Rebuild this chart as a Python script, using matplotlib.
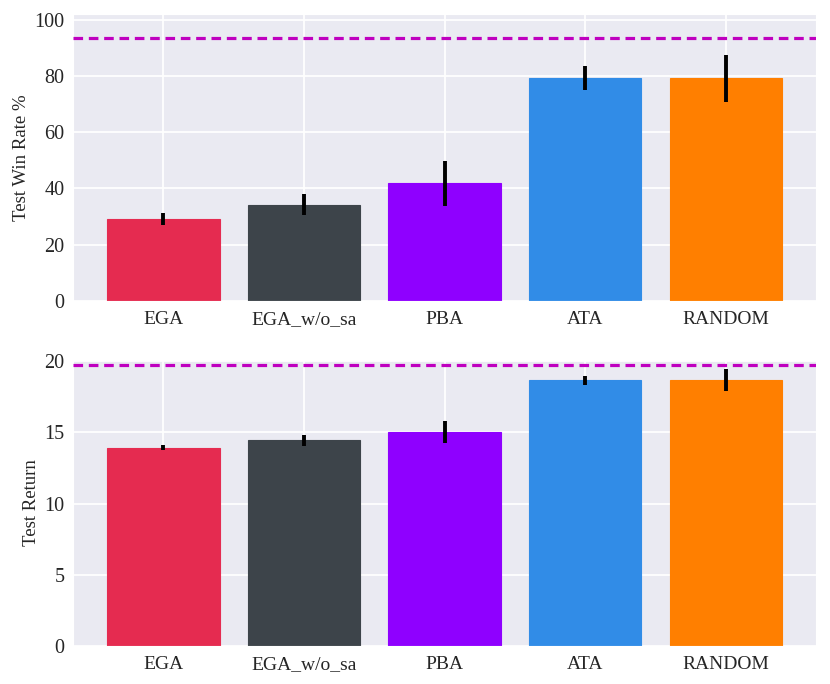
import numpy as np
import matplotlib.pyplot as plt
import seaborn as sns

sns.set_style('darkgrid')
plt.rcParams['font.family'] = ['Liberation Serif', 'DejaVu Serif']

methods = ['EGA', 'EGA_w/o_sa', 'PBA', 'ATA', 'RANDOM']
colors = ['#E52B50', '#3D444A', '#8F00FF', '#318CE7', '#FF7F00']

win_rate = [29.1, 34.2, 41.8, 79.4, 79.2]
win_rate_err = [2.2, 3.8, 8.1, 4.3, 8.3]
win_rate_ref = 93.6

ret = [13.94, 14.45, 15.06, 18.66, 18.72]
ret_err = [0.17, 0.38, 0.77, 0.33, 0.78]
ret_ref = 19.78

fig = plt.figure(figsize=(8.3, 6.84), dpi=100)
ax1 = fig.add_axes([0.0883, 0.5604, 0.8947, 0.4186])
ax2 = fig.add_axes([0.0883, 0.056, 0.8947, 0.4177])

x = np.arange(len(methods))

def draw(ax, vals, errs, ref, ylabel, ylim, yticks):
    ax.bar(x, vals, width=0.8, color=colors, edgecolor=colors, linewidth=0.8, zorder=2)
    ax.errorbar(x, vals, yerr=errs, fmt='none', ecolor='black', elinewidth=2.8, capsize=0, zorder=3)
    ax.axhline(ref, color='m', linewidth=2.3, linestyle=(0, (3, 1.8)), zorder=4)
    ax.set_xticks(x)
    ax.set_xticklabels(methods, fontsize=14)
    ax.set_yticks(yticks)
    ax.tick_params(axis='y', labelsize=14.5, pad=3)
    ax.tick_params(axis='x', pad=4)
    ax.set_ylim(*ylim)
    ax.set_xlim(-0.64, 4.64)
    ax.set_ylabel(ylabel, fontsize=13.5, labelpad=3)
    ax.grid(True, color='white', linewidth=1.3)
    ax.set_axisbelow(True)

draw(ax1, win_rate, win_rate_err, win_rate_ref, 'Test Win Rate %', (0, 102), [0, 20, 40, 60, 80, 100])
draw(ax2, ret, ret_err, ret_ref, 'Test Return', (0, 20.1), [0, 5, 10, 15, 20])

fig.savefig('out.png', dpi=100)
